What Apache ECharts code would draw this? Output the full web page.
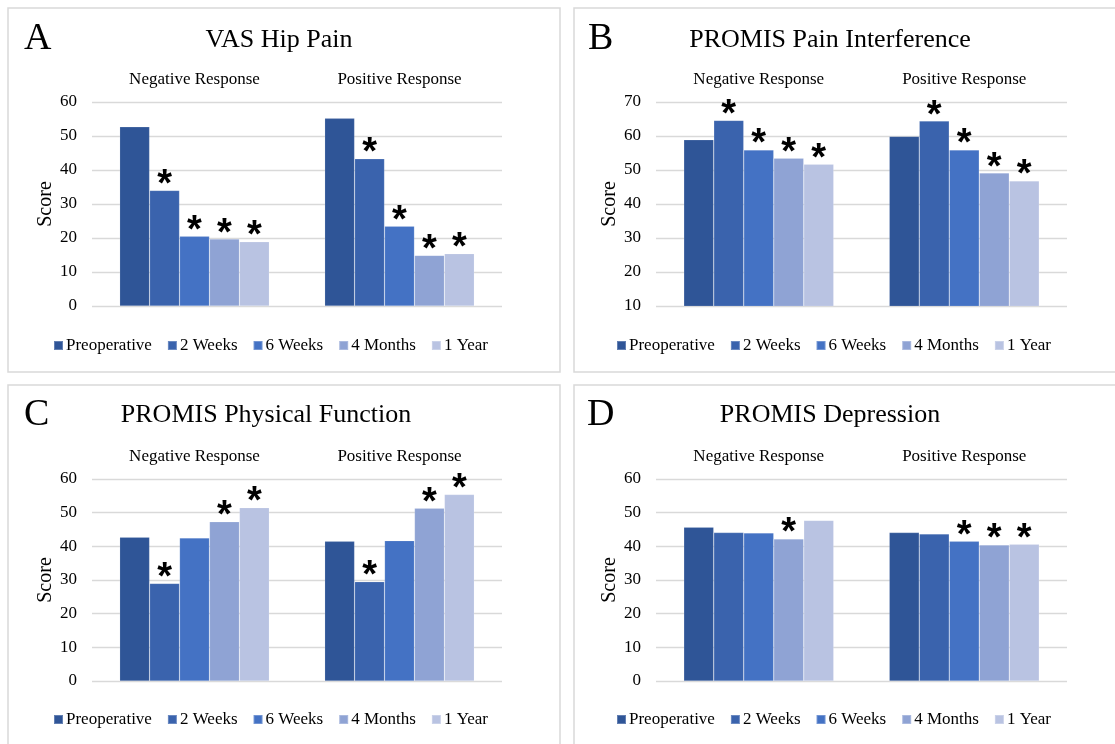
<!DOCTYPE html>
<html>
<head>
<meta charset="utf-8">
<script src="https://cdn.jsdelivr.net/npm/echarts@6/dist/echarts.min.js"></script>
<style>
html,body{margin:0;padding:0;background:#fff;}
#chart{width:1115px;height:744px;}
</style>
</head>
<body>
<div id="chart"></div>
<script>
// ---- data ----
const groups = ['Negative Response', 'Positive Response'];
const timepoints = ['Preoperative', '2 Weeks', '6 Weeks', '4 Months', '1 Year'];
const panelLetters = ['A', 'B', 'C', 'D'];
const panelTitles = ['VAS Hip Pain', 'PROMIS Pain Interference', 'PROMIS Physical Function', 'PROMIS Depression'];
const yMins = [0, 10, 0, 0];
const yMaxs = [60, 70, 60, 60];

const vasNegative = [52.7, 34.0, 20.5, 19.7, 18.9];
const vasPositive = [55.2, 43.3, 23.5, 14.9, 15.4];
const vasSigNegative = [0, 1, 1, 1, 1];
const vasSigPositive = [0, 1, 1, 1, 1];

const painIntNegative = [58.9, 64.6, 55.9, 53.5, 51.7];
const painIntPositive = [59.9, 64.4, 55.9, 49.1, 46.8];
const painIntSigNegative = [0, 1, 1, 1, 1];
const painIntSigPositive = [0, 1, 1, 1, 1];

const physFuncNegative = [42.7, 29.0, 42.5, 47.3, 51.5];
const physFuncPositive = [41.5, 29.5, 41.7, 51.3, 55.4];
const physFuncSigNegative = [0, 1, 0, 1, 1];
const physFuncSigPositive = [0, 1, 0, 1, 1];

const depressionNegative = [45.7, 44.1, 44.0, 42.2, 47.7];
const depressionPositive = [44.1, 43.7, 41.5, 40.4, 40.6];
const depressionSigNegative = [0, 0, 0, 1, 0];
const depressionSigPositive = [0, 0, 1, 1, 1];

// ---- build ----
const panelNeg = [vasNegative, painIntNegative, physFuncNegative, depressionNegative];
const panelPos = [vasPositive, painIntPositive, physFuncPositive, depressionPositive];
const panelSigNeg = [vasSigNegative, painIntSigNegative, physFuncSigNegative, depressionSigNegative];
const panelSigPos = [vasSigPositive, painIntSigPositive, physFuncSigPositive, depressionSigPositive];

const colors = ['#2F5597', '#3A63AD', '#4472C4', '#8FA3D4', '#B9C3E2'];
const serif = 'Liberation Serif';

const gridPos = [
  {left: 92, top: 102, width: 410, height: 204},
  {left: 656, top: 102, width: 411, height: 204},
  {left: 92, top: 479, width: 410, height: 202},
  {left: 656, top: 479, width: 411, height: 202}
];
const letterPos = [[24, 20], [588, 20], [24, 396], [587, 396]];
const titleCenters = [[279, 40], [830, 40], [266, 415], [830, 415]];
const legendCenters = [[270, 345], [833, 345], [270, 719], [833, 719]];
const boxes = [[8, 8, 552, 364], [574, 8, 560, 364], [8, 385, 552, 380], [574, 385, 560, 380]];

const option = {
  animation: false,
  color: colors,
  grid: [],
  xAxis: [],
  yAxis: [],
  legend: [],
  series: [],
  graphic: []
};

for (let p = 0; p < 4; p++) {
  const b = boxes[p];
  option.graphic.push({
    type: 'rect', shape: {x: b[0], y: b[1], width: b[2], height: b[3]},
    style: {fill: 'none', stroke: '#D9D9D9', lineWidth: 1.5}, silent: true, z: -1
  });
  option.graphic.push({
    type: 'text', left: letterPos[p][0], top: letterPos[p][1],
    style: {text: panelLetters[p], font: '38px "' + serif + '"', fill: '#000'}
  });
  option.graphic.push({
    type: 'text', x: titleCenters[p][0], y: titleCenters[p][1],
    style: {text: panelTitles[p], font: '26px "' + serif + '"', fill: '#000', align: 'center', verticalAlign: 'middle'}
  });
  option.grid.push(Object.assign({containLabel: false}, gridPos[p]));
  option.xAxis.push({
    type: 'category', gridIndex: p, data: groups, position: 'top',
    axisLine: {show: false}, axisTick: {show: false},
    axisLabel: {color: '#000', fontFamily: serif, fontSize: 17, margin: 14}
  });
  option.yAxis.push({
    type: 'value', gridIndex: p, min: yMins[p], max: yMaxs[p], interval: 10,
    name: 'Score', nameLocation: 'middle', nameGap: 36, nameRotate: 90,
    nameTextStyle: {color: '#000', fontFamily: serif, fontSize: 20},
    axisLine: {show: false}, axisTick: {show: false},
    axisLabel: {color: '#000', fontFamily: serif, fontSize: 17, margin: 15},
    splitLine: {lineStyle: {color: '#D9D9D9', width: 1.3}}
  });
  option.legend.push({
    data: timepoints, left: legendCenters[p][0] - 220, top: legendCenters[p][1] - 9,
    width: 520, orient: 'horizontal', icon: 'rect', itemWidth: 9, itemHeight: 9, itemGap: 15,
    textStyle: {color: '#000', fontFamily: serif, fontSize: 17, padding: [0, 0, 0, -2]},
    padding: 0
  });
  for (let t = 0; t < 5; t++) {
    const sig = [panelSigNeg[p][t], panelSigPos[p][t]];
    option.series.push({
      type: 'bar', name: timepoints[t], xAxisIndex: p, yAxisIndex: p,
      data: [panelNeg[p][t], panelPos[p][t]],
      barGap: '0%', barCategoryGap: '27%',
      itemStyle: {color: colors[t], borderColor: 'rgba(255,255,255,0.25)', borderWidth: 0.6},
      label: {
        show: true, position: 'top', distance: -14,
        formatter: (function (s) { return function (prm) { return s[prm.dataIndex] ? '*' : ''; }; })(sig),
        fontFamily: 'Liberation Sans', fontWeight: 'bold', fontSize: 38, color: '#000'
      }
    });
  }
}

const chart = echarts.init(document.getElementById('chart'));
chart.setOption(option);

// center legends horizontally on target centers
function centerLegends() {
  const model = chart.getModel();
  const newLegends = [];
  for (let p = 0; p < 4; p++) {
    const lm = model.getComponent('legend', p);
    const view = chart.getViewOfComponentModel(lm);
    const rect = view.group.getBoundingRect();
    newLegends.push({left: Math.round(legendCenters[p][0] - rect.width / 2), top: Math.round(legendCenters[p][1] - rect.height / 2)});
  }
  chart.setOption({legend: newLegends});
}
centerLegends();
</script>
</body>
</html>
